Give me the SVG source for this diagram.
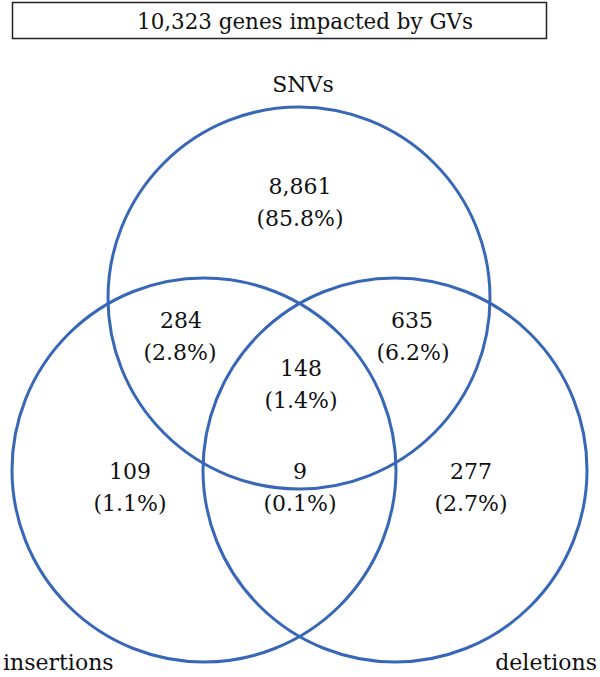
<svg xmlns="http://www.w3.org/2000/svg" width="600" height="677" viewBox="0 0 600 677">
<style>
.t{font-family:'DejaVu Serif','Liberation Serif',serif;font-size:22px;fill:#111;text-anchor:middle}
.c{fill:none;stroke:#3867b8;stroke-width:3}
</style>
<rect x="0" y="0" width="600" height="677" fill="#fff"/>
<g id="title">
<rect x="12.5" y="2.5" width="534" height="36" fill="#fff" stroke="#222" stroke-width="1.5"/>
<text class="t" x="305" y="28.5" textLength="336" lengthAdjust="spacingAndGlyphs">10,323 genes impacted by GVs</text>
</g>
<g id="connectors"></g>
<g id="snvs">
<circle class="c" cx="299" cy="298" r="191"/>
<text class="t" x="303" y="92">SNVs</text>
</g>
<g id="insertions">
<circle class="c" cx="204" cy="470" r="192"/>
<text class="t" x="3" y="670" style="text-anchor:start">insertions</text>
</g>
<g id="deletions">
<circle class="c" cx="395" cy="470" r="192"/>
<text class="t" x="597" y="670" style="text-anchor:end">deletions</text>
</g>
<g id="snv-only"><text class="t" x="300" y="194">8,861</text><text class="t" x="300" y="226">(85.8%)</text></g>
<g id="snv-ins"><text class="t" x="181" y="328">284</text><text class="t" x="180" y="360">(2.8%)</text></g>
<g id="snv-del"><text class="t" x="412" y="328">635</text><text class="t" x="413" y="360">(6.2%)</text></g>
<g id="all"><text class="t" x="301" y="376">148</text><text class="t" x="301" y="408">(1.4%)</text></g>
<g id="ins-only"><text class="t" x="130" y="479">109</text><text class="t" x="130" y="511">(1.1%)</text></g>
<g id="ins-del"><text class="t" x="300" y="479">9</text><text class="t" x="300" y="511">(0.1%)</text></g>
<g id="del-only"><text class="t" x="471" y="479">277</text><text class="t" x="471" y="511">(2.7%)</text></g>
</svg>
